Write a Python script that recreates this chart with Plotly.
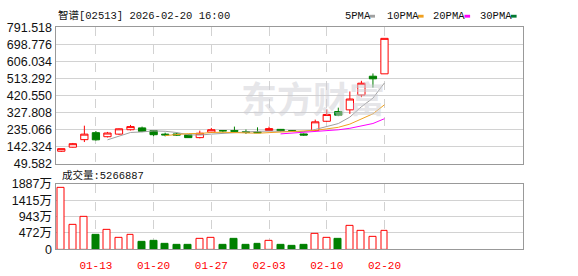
import plotly.graph_objects as go
import pandas as pd

W, H = 578, 276

dates = ["01-08", "01-09", "01-12", "01-13", "01-14", "01-15", "01-16", "01-19",
         "01-20", "01-21", "01-22", "01-23", "01-26", "01-27", "01-28", "01-29",
         "01-30", "02-02", "02-03", "02-04", "02-05", "02-06", "02-09", "02-10",
         "02-11", "02-12", "02-13", "02-16", "02-20"]
opens = [117, 139, 180, 218, 196, 210, 234, 244, 229, 210, 211, 206, 191, 220, 229,
         229, 223, 222, 230, 236, 229, 211, 230, 280, 333, 342, 423, 525, 538]
highs = [131, 162, 256, 227, 222, 241, 260, 251, 231, 218, 218, 208, 229, 244, 232,
         251, 235, 247, 251, 238, 232, 214, 289, 344, 354, 442, 500, 540, 731]
lows = [113, 137, 167, 175, 192, 206, 230, 221, 199, 198, 200, 189, 187, 218, 219,
        222, 211, 216, 228, 224, 222, 201, 226, 278, 308, 320, 411, 463, 538]
closes = [131, 158, 210, 179, 216, 239, 251, 225, 207, 206, 205, 191, 215, 234, 228,
          226, 220, 218, 240, 229, 226, 205, 277, 317, 313, 401, 487, 511, 731]
volumes = [17590000, 6920000, 9300000, 4180000, 5740000, 3280000, 4100000, 2270000,
           2540000, 1720000, 1180000, 1180000, 3050000, 3360000, 1180000, 3090000,
           1180000, 1720000, 2540000, 1180000, 900000, 1180000, 4370000, 3360000,
           3090000, 6840000, 5200000, 3640000, 5266887]

price_ticks = [49.582, 142.324, 235.066, 327.808, 420.550, 513.292, 606.034, 698.776, 791.518]
price_labels = ["49.582", "142.324", "235.066", "327.808", "420.550", "513.292",
                "606.034", "698.776", "791.518"]
vol_ticks = [0, 4720000, 9430000, 14150000, 18870000]
vol_labels = ["0", "472万", "943万", "1415万", "1887万"]
date_ticks = ["01-13", "01-20", "01-27", "02-03", "02-10", "02-20"]

ma_periods = [5, 10, 20, 30]
ma_names = ["5PMA", "10PMA", "20PMA", "30PMA"]
ma_colors = ["#a0a0a0", "#f0a020", "#ff00ff", "#007a30"]

RED = "#ff0000"
GREEN = "#008000"

close_s = pd.Series(closes, dtype=float)
prev = [opens[0]] + closes[:-1]
vol_up = [c >= p for c, p in zip(closes, prev)]

fig = go.Figure()

fig.add_trace(go.Candlestick(
    x=dates, open=opens, high=highs, low=lows, close=closes,
    increasing=dict(line=dict(color=RED, width=1), fillcolor="white"),
    decreasing=dict(line=dict(color=GREEN, width=1), fillcolor=GREEN),
    whiskerwidth=0, xaxis="x", yaxis="y", showlegend=False, hoverinfo="skip"))

for p, name, col in zip(ma_periods, ma_names, ma_colors):
    ma = close_s.rolling(p).mean()
    fig.add_trace(go.Scatter(x=dates, y=ma, mode="lines", line=dict(color=col, width=1),
                             name=name, xaxis="x", yaxis="y", showlegend=False,
                             hoverinfo="skip"))

fig.add_trace(go.Bar(
    x=dates, y=volumes, width=0.6,
    marker=dict(color=["white" if u else GREEN for u in vol_up],
                line=dict(color=[RED if u else GREEN for u in vol_up], width=1)),
    xaxis="x2", yaxis="y2", showlegend=False, hoverinfo="skip"))

def px_x(v):
    return v / W

def px_y(v):
    return (H - v) / H

x_dom = [px_x(55.5), px_x(523)]
FRAME = "#999999"
GRID = "#d2d2d2"

common_x = dict(domain=x_dom, type="category", range=[-0.5, 40], tickmode="array",
                tickvals=date_ticks, showgrid=True, gridcolor=GRID, griddash="dash",
                gridwidth=1, showline=True, mirror=True, linecolor=FRAME, linewidth=1,
                zeroline=False, ticks="", fixedrange=True)

fig.update_layout(
    width=W, height=H, margin=dict(l=0, r=0, t=0, b=0),
    paper_bgcolor="white", plot_bgcolor="white",
    boxgap=0.1, boxgroupgap=0.3,
    bargap=0,
    xaxis=dict(**common_x, anchor="y", showticklabels=False, rangeslider=dict(visible=False)),
    xaxis2=dict(**common_x, anchor="y2", showticklabels=True, ticktext=date_ticks,
                ticklabelstandoff=5,
                tickfont=dict(family="Liberation Mono", size=11, color=RED)),
    yaxis=dict(domain=[px_y(165), px_y(21.3)], range=[price_ticks[0], price_ticks[-1]],
               tickmode="array", tickvals=price_ticks, ticktext=price_labels,
               showgrid=True, gridcolor=GRID, gridwidth=1, showline=True, mirror=True,
               linecolor=FRAME, zeroline=False, ticks="",
               tickfont=dict(family="Liberation Sans", size=12.5, color="#111111")),
    yaxis2=dict(domain=[px_y(255.3), px_y(186.3)], range=[0, vol_ticks[-1]],
                tickmode="array", tickvals=vol_ticks, ticktext=vol_labels,
                showgrid=True, gridcolor=GRID, gridwidth=1, showline=True, mirror=True,
                linecolor=FRAME, zeroline=False, ticks="",
                tickfont=dict(family="Liberation Sans, Noto Sans CJK SC", size=12.5,
                              color="#111111")),
)

MONO = "Liberation Mono, Noto Sans CJK SC"
ann = []
ann.append(dict(text="<b>东方财富</b>", x=px_x(313), y=px_y(95), xref="paper", yref="paper",
                showarrow=False, font=dict(family="Noto Sans CJK SC", size=36,
                                           color="rgba(205,205,212,0.5)"),
                xanchor="center", yanchor="middle"))
ann.append(dict(text="智谱[02513] 2026-02-20 16:00", x=px_x(56), y=px_y(9),
                xref="paper", yref="paper", showarrow=False,
                font=dict(family=MONO, size=10.5, color="#111111"),
                xanchor="left", yanchor="middle"))
ann.append(dict(text="成交量:" + str(volumes[-1]), x=px_x(59.5), y=px_y(178),
                xref="paper", yref="paper", showarrow=False,
                font=dict(family=MONO, size=10.5, color="#111111"),
                xanchor="left", yanchor="middle"))

legend_text_x = [342.5, 385, 431, 477.6]
legend_box_x = [369.4, 418, 464.5, 511]
shapes = []
for name, col, tx, bx in zip(ma_names, ma_colors, legend_text_x, legend_box_x):
    ann.append(dict(text=name, x=px_x(tx), y=px_y(10), xref="paper", yref="paper",
                    showarrow=False, font=dict(family=MONO, size=10.5, color="#111111"),
                    xanchor="left", yanchor="middle"))
    shapes.append(dict(type="rect", xref="paper", yref="paper",
                       x0=px_x(bx), x1=px_x(bx + 5.6), y0=px_y(11.2), y1=px_y(8.2),
                       fillcolor=col, line=dict(width=0)))

fig.update_layout(annotations=ann, shapes=shapes)

fig.write_html("out.html")
